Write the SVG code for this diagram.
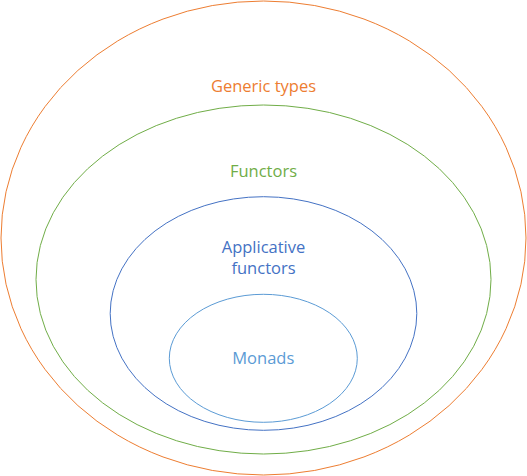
<svg xmlns="http://www.w3.org/2000/svg" width="527" height="476" viewBox="0 0 527 476">
<style>
ellipse{fill:none;stroke-width:1}
text{font-family:"Open Sans","Liberation Sans",sans-serif;font-size:16.5px;text-anchor:middle}
</style>
<rect width="527" height="476" fill="#fff"/>
<g id="generic-types">
<ellipse cx="263.5" cy="238" rx="262.5" ry="237" stroke="#ED7D31"/>
<text x="263.5" y="92" fill="#ED7D31">Generic types</text>
</g>
<g id="functors">
<ellipse cx="263.5" cy="279.5" rx="227.5" ry="174.5" stroke="#70AD47"/>
<text x="263.5" y="177" fill="#70AD47">Functors</text>
</g>
<g id="applicative-functors">
<ellipse cx="263.5" cy="313.5" rx="153.3" ry="116.8" stroke="#4472C4"/>
<text x="263.5" y="252.7" fill="#4472C4">Applicative</text>
<text x="263.5" y="274" fill="#4472C4">functors</text>
</g>
<g id="monads">
<ellipse cx="263.3" cy="358.3" rx="94" ry="64" stroke="#5B9BD5"/>
<text x="263.3" y="364" fill="#5B9BD5">Monads</text>
</g>
<g id="connectors"/>
</svg>
